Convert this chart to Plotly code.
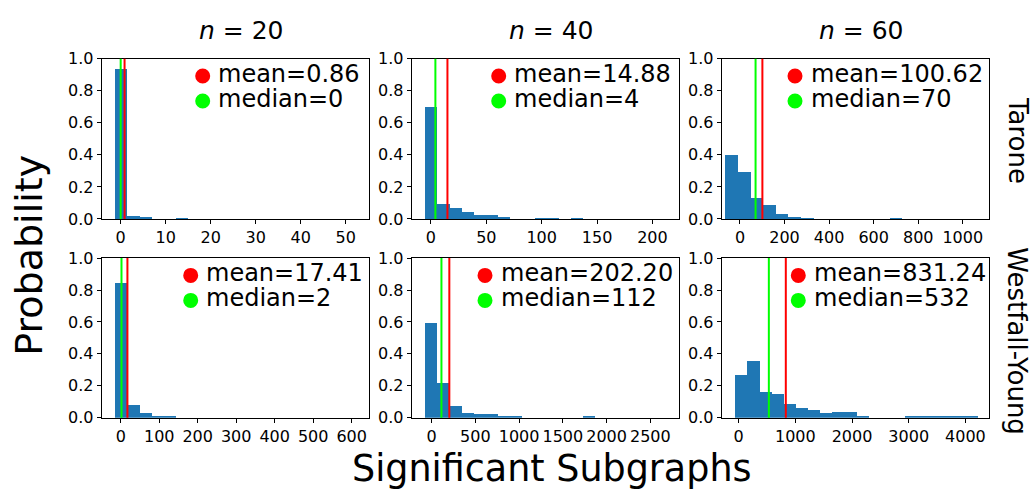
import plotly.graph_objects as go

W, H = 1033, 497

# ---------------- data ----------------
methods = ["Tarone", "Westfall-Young"]
sizes = [20, 40, 60]

# 20-bin histograms: bin range (lo, hi) and bar heights (probability)
t20_range = (-1.27, 52.66)
t20_prob = [0.938, 0.020, 0.014, 0.000, 0.000, 0.008, 0.000, 0.000, 0.000, 0.000,
            0.000, 0.000, 0.000, 0.000, 0.000, 0.000, 0.000, 0.000, 0.000, 0.000]
t40_range = (-5.4, 213.8)
t40_prob = [0.698, 0.092, 0.068, 0.044, 0.026, 0.026, 0.014, 0.000, 0.000, 0.008,
            0.008, 0.000, 0.008, 0.000, 0.000, 0.000, 0.000, 0.000, 0.000, 0.000]
t60_range = (-67.4, 1067.0)
t60_prob = [0.404, 0.294, 0.134, 0.086, 0.032, 0.014, 0.008, 0.000, 0.000, 0.000,
            0.000, 0.000, 0.000, 0.008, 0.000, 0.000, 0.000, 0.000, 0.000, 0.000]
w20_range = (-14.8, 615.6)
w20_prob = [0.843, 0.078, 0.030, 0.012, 0.012, 0.000, 0.000, 0.000, 0.000, 0.000,
            0.000, 0.000, 0.000, 0.000, 0.000, 0.000, 0.000, 0.000, 0.000, 0.000]
w40_range = (-76.0, 2698.0)
w40_prob = [0.590, 0.217, 0.072, 0.030, 0.024, 0.024, 0.008, 0.008, 0.000, 0.000,
            0.000, 0.000, 0.000, 0.008, 0.000, 0.000, 0.000, 0.000, 0.000, 0.000]
w60_range = (-65.0, 4217.0)
w60_prob = [0.265, 0.355, 0.163, 0.151, 0.084, 0.060, 0.048, 0.030, 0.036, 0.036,
            0.012, 0.000, 0.000, 0.000, 0.006, 0.012, 0.006, 0.006, 0.006, 0.006]

means = [0.86, 14.88, 100.62, 17.41, 202.20, 831.24]
medians = [0, 4, 70, 2, 112, 532]
mean_labels = ["0.86", "14.88", "100.62", "17.41", "202.20", "831.24"]
median_labels = ["0", "4", "70", "2", "112", "532"]

x_ranges = [(-4.22, 55.24), (-17.4, 224.3), (-82, 1119),
            (-49.4, 645.7), (-228, 2831), (-300, 4422)]
x_dticks = [10, 50, 200, 100, 500, 1000]

panels = [(t20_range, t20_prob), (t40_range, t40_prob), (t60_range, t60_prob),
          (w20_range, w20_prob), (w40_range, w40_prob), (w60_range, w60_prob)]

# ---------------- layout geometry (pixels) ----------------
col_px = [(101.7, 369.3), (411.7, 679.3), (721.7, 989.3)]
row_px = [(51.7, 218.3), (259.0, 425.0)]
legend_dot_x = [202.7, 498.7, 795.0, 190.7, 485.0, 798.3]
legend_dy = (18.0, 44.0)

BLUE = "#1f77b4"
RED = "#ff0000"
GREEN = "#00ff00"
FONT = "DejaVu Sans"


def py(v):  # pixel (from top) -> paper
    return 1 - v / H


def px(v):
    return v / W


fig = go.Figure()
shapes = []
annotations = []
layout_axes = {}

for k, ((lo, hi), prob) in enumerate(panels):
    r, c = divmod(k, 3)
    n = k + 1
    xs = "" if n == 1 else str(n)
    nb = len(prob)
    w = (hi - lo) / nb
    centers = [lo + (i + 0.5) * w for i in range(nb)]
    fig.add_trace(go.Bar(x=centers, y=prob, width=w,
                         marker=dict(color=BLUE, line=dict(width=0)),
                         xaxis="x" + xs, yaxis="y" + xs, showlegend=False))
    x0p, x1p = col_px[c]
    y0p, y1p = row_px[r]
    layout_axes["xaxis" + xs] = dict(
        domain=[px(x0p), px(x1p)], anchor="y" + xs, range=list(x_ranges[k]),
        dtick=x_dticks[k], tick0=0, showline=True, mirror=True, linecolor="black",
        linewidth=1, ticks="outside", ticklen=4, tickwidth=1, tickcolor="black",
        showgrid=False, zeroline=False,
        tickfont=dict(family=FONT, size=16, color="black"))
    layout_axes["yaxis" + xs] = dict(
        domain=[py(y1p), py(y0p)], anchor="x" + xs, range=[0, 1],
        dtick=0.2, tickformat=".1f", showline=True, mirror=True, linecolor="black",
        linewidth=1, ticks="outside", ticklen=4, tickwidth=1, tickcolor="black",
        showgrid=False, zeroline=False,
        tickfont=dict(family=FONT, size=16, color="black"))
    # mean / median lines
    for val, col in ((means[k], RED), (medians[k], GREEN)):
        shapes.append(dict(type="line", xref="x" + xs, yref="y" + xs + " domain",
                           x0=val, x1=val, y0=0, y1=1, layer="above",
                           line=dict(color=col, width=2)))
    # legend (dot + label)
    dx = legend_dot_x[k]
    for dy, col, txt in ((legend_dy[0], RED, "mean=" + mean_labels[k]),
                         (legend_dy[1], GREEN, "median=" + median_labels[k])):
        cy = y0p + dy
        shapes.append(dict(type="circle", xref="paper", yref="paper",
                           xsizemode="pixel", ysizemode="pixel",
                           xanchor=px(dx), yanchor=py(cy),
                           x0=-7.5, x1=7.5, y0=-7.5, y1=7.5,
                           fillcolor=col, line=dict(width=0), layer="above"))
        annotations.append(dict(text=txt, xref="paper", yref="paper",
                                x=px(dx + 14.6), y=py(cy - 2),
                                xanchor="left", yanchor="middle", showarrow=False,
                                borderpad=0,
                                font=dict(family=FONT, size=24, color="black")))

# column titles
title_cx = [241.3, 551.3, 861.3]
for c, s in enumerate(sizes):
    annotations.append(dict(text="<i>n</i> = %d" % s, xref="paper", yref="paper",
                            x=px(title_cx[c]), y=py(22.0), xanchor="center",
                            yanchor="middle", showarrow=False, borderpad=0,
                            font=dict(family=FONT, size=25, color="black")))
# row labels (rotated clockwise)
row_cy = [136.7, 345.0]
for r, m in enumerate(methods):
    annotations.append(dict(text=m, xref="paper", yref="paper",
                            x=px(1017.5), y=py(row_cy[r]), xanchor="center",
                            yanchor="middle", textangle=90, showarrow=False,
                            borderpad=0,
                            font=dict(family=FONT, size=26, color="black")))
# axis labels
annotations.append(dict(text="Probability", xref="paper", yref="paper",
                        x=px(29.5), y=py(256), xanchor="center", yanchor="middle",
                        textangle=-90, showarrow=False, borderpad=0,
                        font=dict(family=FONT, size=38, color="black")))
annotations.append(dict(text="Significant Subgraphs", xref="paper", yref="paper",
                        x=px(551.7), y=py(477.5), xanchor="center", yanchor="middle",
                        showarrow=False, borderpad=0,
                        font=dict(family=FONT, size=36.5, color="black")))

fig.update_layout(width=W, height=H, margin=dict(l=0, r=0, t=0, b=0, pad=0),
                  autosize=False,
                  paper_bgcolor="white", plot_bgcolor="white",
                  bargap=0, barmode="overlay",
                  shapes=shapes, annotations=annotations,
                  font=dict(family=FONT, color="black"), **layout_axes)

fig.write_html("out.html", config={"displayModeBar": False},
               post_script="document.body.style.margin='0';document.body.style.padding='0';")
